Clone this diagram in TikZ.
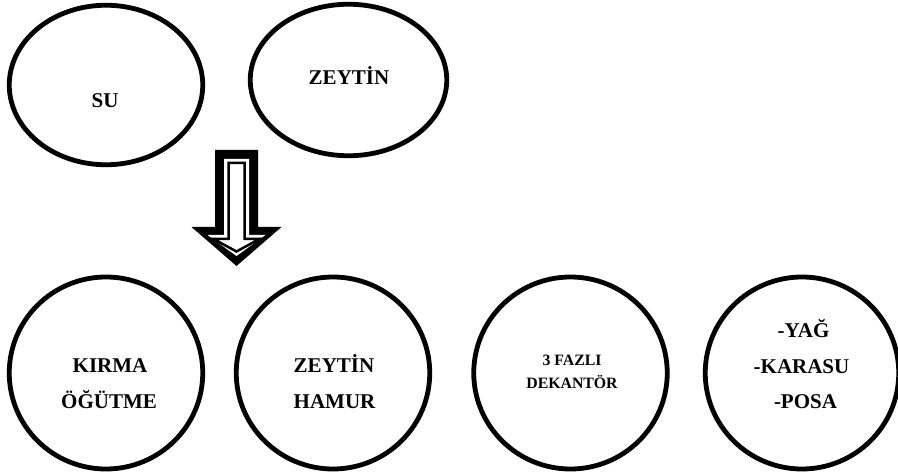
\documentclass[tikz,border=0pt]{standalone}
\usepackage{fontspec}
\setmainfont{Liberation Serif}
\usetikzlibrary{shapes.geometric}
\begin{document}
\begin{tikzpicture}[x=1pt,y=-1pt,
  oval/.style={draw=black, line width=4.8pt, ellipse, inner sep=0pt},
  roundbox/.style={oval, minimum width=193.5pt, minimum height=192pt},
  bigtxt/.style={font=\bfseries\fontsize{21}{24}\selectfont, anchor=base, inner sep=0pt},
  smalltxt/.style={font=\bfseries\fontsize{15.8}{18}\selectfont, anchor=base, inner sep=0pt}]
\useasboundingbox (0,0) rectangle (898,476);

% top ellipses
\node[oval, minimum width=193.5pt, minimum height=159.5pt] (su) at (106,85) {};
\node[oval, minimum width=196.5pt, minimum height=151.5pt] (zeytin) at (348.5,80) {};
\node[bigtxt] (sutxt) at (105,108) {SU};
\node[bigtxt] (zeytintxt) at (349,85) {ZEYTİN};

% block arrow
\fill[black] (215,150) -- (258,150) -- (258,227) -- (281.5,227) -- (236.5,266) -- (191.5,227) -- (215,227) -- cycle;
\fill[white] (224,159) -- (249,159) -- (249,235) -- (265.5,235) -- (236.5,256) -- (207.5,235) -- (224,235) -- cycle;
\draw[line width=2.5pt, fill=white, line join=miter] (228.5,163) -- (244.5,163) -- (244.5,239) -- (259.5,239) -- (236.5,251.5) -- (213.5,239) -- (228.5,239) -- cycle;

% bottom circles
\node[roundbox] (kirma) at (106,373) {};
\node[roundbox] (hamur) at (333,373) {};
\node[roundbox] (dekantor) at (570.5,373) {};
\node[roundbox] (urun) at (802,373) {};

\node[bigtxt] (k1) at (110,372) {KIRMA};
\node[bigtxt] (k2) at (109,408) {ÖĞÜTME};
\node[bigtxt] (h1) at (334,372) {ZEYTİN};
\node[bigtxt] (h2) at (334.5,408) {HAMUR};
\node[smalltxt] (d1) at (572,365) {3 FAZLI};
\node[smalltxt] (d2) at (572,388) {DEKANTÖR};
\node[bigtxt] (u1) at (803.5,337) {-YAĞ};
\node[bigtxt] (u2) at (801.5,373) {-KARASU};
\node[bigtxt] (u3) at (805.5,408) {-POSA};
\end{tikzpicture}
\end{document}
